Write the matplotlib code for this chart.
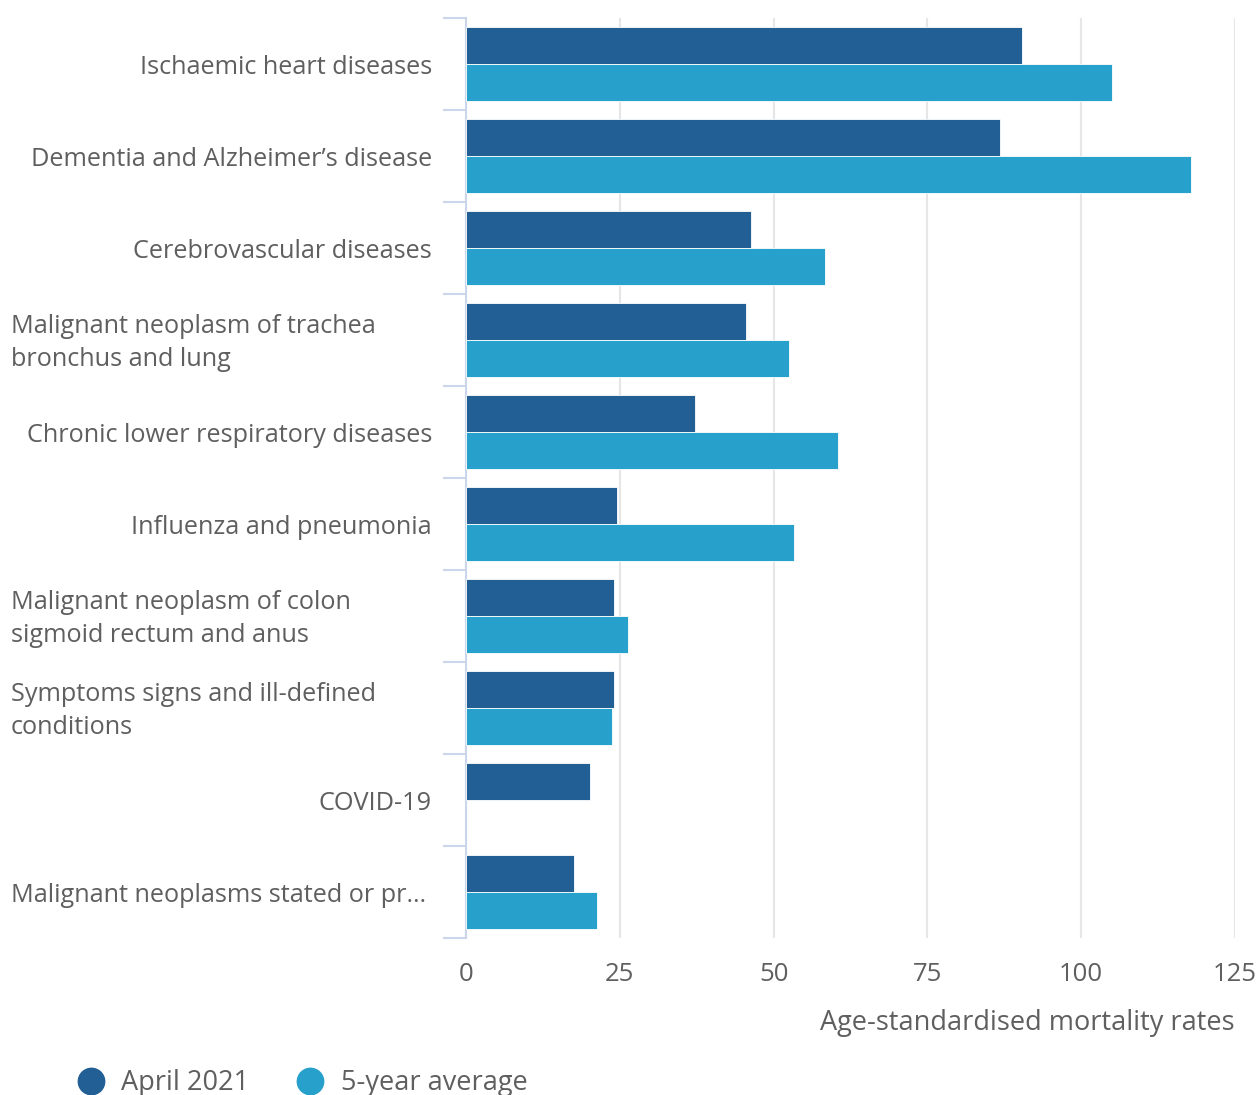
import matplotlib
matplotlib.use("Agg")
import matplotlib.pyplot as plt
import matplotlib.transforms as mtransforms
from matplotlib.lines import Line2D
import numpy as np

plt.rcParams['font.family'] = ['Open Sans', 'DejaVu Sans']

categories = [
    "Ischaemic heart diseases",
    "Dementia and Alzheimer\u2019s disease",
    "Cerebrovascular diseases",
    "Malignant neoplasm of trachea\nbronchus and lung",
    "Chronic lower respiratory diseases",
    "Influenza and pneumonia",
    "Malignant neoplasm of colon\nsigmoid rectum and anus",
    "Symptoms signs and ill-defined\nconditions",
    "COVID-19",
    "Malignant neoplasms stated or pr\u2026",
]
april_2021 = [90.4, 86.8, 46.3, 45.5, 37.2, 24.5, 24.1, 24.1, 20.2, 17.6]
five_year_avg = [105.0, 117.8, 58.4, 52.5, 60.5, 53.3, 26.3, 23.7, np.nan, 21.3]
series_names = ["April 2021", "5-year average"]
xticks = [0, 25, 50, 75, 100, 125]

dark = "#215f94"
light = "#27a1cb"
txt = "#5f5f5f"
axis_col = "#ccd6eb"
grid_col = "#e6e6e6"

W, H = 1258, 1095
fig = plt.figure(figsize=(W / 100, H / 100), dpi=100)
ax = fig.add_axes([466 / W, 1 - 938 / H, (1235 - 466) / W, (938 - 18) / H])

n = len(categories)
y = np.arange(n)
bh = 0.40
ax.barh(y - bh / 2, april_2021, height=bh, color=dark, edgecolor="white", linewidth=0.6, zorder=3)
ax.barh(y + bh / 2, five_year_avg, height=bh, color=light, edgecolor="white", linewidth=0.6, zorder=3)

ax.set_ylim(n - 0.5, -0.5)
ax.set_xlim(0, 125)
ax.set_xticks(xticks)
ax.set_xticklabels([str(t) for t in xticks])
ax.tick_params(axis="x", length=0, pad=17, labelsize=18.5, labelcolor=txt)
ax.set_yticks(np.arange(n + 1) - 0.5)
ax.set_yticklabels([])
ax.tick_params(axis="y", length=16.5, width=1.5, color=axis_col, direction="out")

for s in ["top", "right", "bottom"]:
    ax.spines[s].set_visible(False)
ax.spines["left"].set_color(axis_col)
ax.spines["left"].set_linewidth(1.5)
ax.xaxis.grid(True, color=grid_col, linewidth=1.5, zorder=0)
ax.set_axisbelow(True)

lab_tr = mtransforms.blended_transform_factory(fig.transFigure, ax.transData)
off = mtransforms.ScaledTranslation(0, -3 / 100, fig.dpi_scale_trans)
for i, lab in enumerate(categories):
    if "\n" in lab or lab.endswith("\u2026"):
        ax.text(11 / W, i, lab, transform=lab_tr + off, ha="left", va="center",
                fontsize=18.2, color=txt, linespacing=1.38)
    else:
        ax.text(432 / W, i, lab, transform=lab_tr + off, ha="right",
                va="center", fontsize=18.2, color=txt)

ax.set_xlabel("Age-standardised mortality rates", fontsize=19.5, color=txt, loc="right", labelpad=16)

handles = [Line2D([], [], marker="o", linestyle="none", markersize=19, color=dark),
           Line2D([], [], marker="o", linestyle="none", markersize=19, color=light)]
fig.legend(handles, series_names, loc="center left", bbox_to_anchor=(77 / W, 1 - 1083 / H),
           ncol=2, frameon=False, fontsize=19.5, labelcolor=txt, handletextpad=0.63,
           columnspacing=1.75, handlelength=1.0, borderpad=0, borderaxespad=0)

fig.savefig("out.png", dpi=100)
